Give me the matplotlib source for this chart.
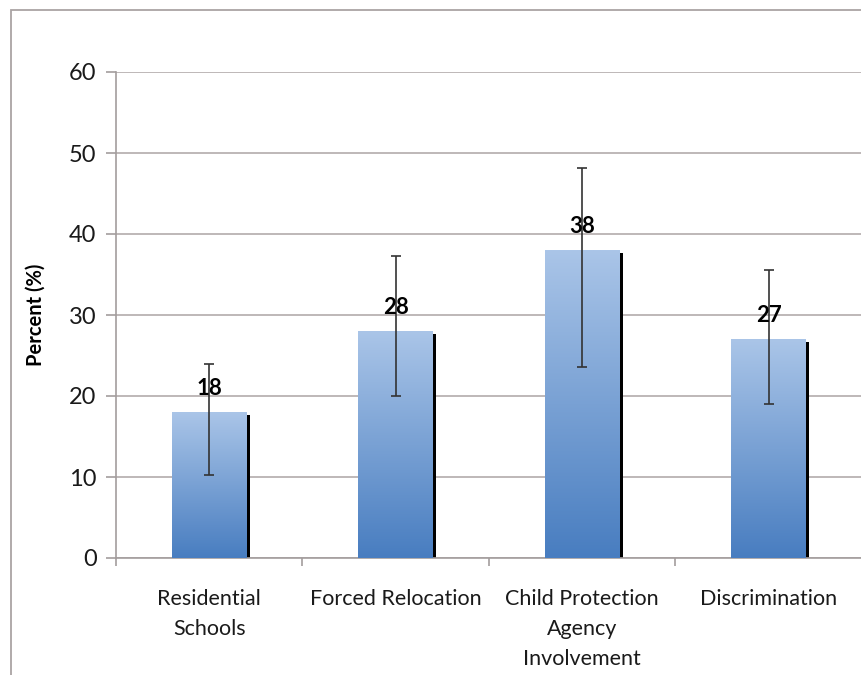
import numpy as np
import matplotlib as mpl
mpl.use('Agg')
import matplotlib.pyplot as plt
import matplotlib.patches as patches
from matplotlib.colors import LinearSegmentedColormap
#
#--- chart data
#
categories = ['Residential\nSchools', 'Forced Relocation', 'Child Protection\nAgency\nInvolvement', 'Discrimination']
percent    = [18, 28, 38, 27]
err_low    = [10.3, 20.0, 23.6, 19.0]
err_high   = [23.9, 37.3, 48.1, 35.6]
yticks     = [0, 10, 20, 30, 40, 50, 60]

#----------------------------------------------------------------------------------------
#--- plot_chart: bar chart with gradient bars, shadow and error bars                  ---
#----------------------------------------------------------------------------------------

def plot_chart(outname='out.png'):
    """
    plot the bar chart
    input:  none (uses the module level data)
    output: <outname>
    """
    plt.close('all')
    mpl.rcParams['font.family'] = ['Lato', 'DejaVu Sans']

    fig = plt.figure(figsize=(8.62, 6.75), dpi=100)
    ax  = fig.add_axes([116/862, 117/675, 746/862, 486/675])
#
#--- figure frame (only left and top edges are inside the picture)
#
    frame = patches.Rectangle((11/862, -0.1), 1.5, 1.0 - 10/675 + 0.1, transform=fig.transFigure,
                              fill=False, edgecolor='#aaa4a4', lw=1.3, zorder=0)
    fig.patches.append(frame)

    x     = np.arange(len(categories))
    width = 0.4
    cmap  = LinearSegmentedColormap.from_list('bar', ['#487dc0', '#aac5e8'])
    grad  = np.linspace(0, 1, 256).reshape(-1, 1)
#
#--- shadow on the right side of each bar
#
    sh_w = 0.016
    ax.bar(x + width / 2 + sh_w / 2, np.array(percent) - 0.3, sh_w, color='black', zorder=2)
#
#--- bars with vertical gradient
#
    bars = ax.bar(x, percent, width, color='none', edgecolor='none', zorder=3)
    for b in bars:
        x0 = b.get_x()
        x1 = x0 + b.get_width()
        h  = b.get_height()
        im = ax.imshow(grad, extent=[x0, x1, 0, h], origin='lower', cmap=cmap,
                       aspect='auto', zorder=3)
        im.set_clip_path(b)
#
#--- error bars
#
    yerr = [np.array(percent) - np.array(err_low), np.array(err_high) - np.array(percent)]
    ax.errorbar(x, percent, yerr=yerr, fmt='none', ecolor='#333333', elinewidth=1.2,
                capsize=3.5, capthick=1.2, zorder=4)
#
#--- value labels
#
    for i in range(len(percent)):
        ax.annotate(str(percent[i]), (x[i], percent[i]), xytext=(0, 17), textcoords='offset points',
                    ha='center', va='center', fontsize=16, fontweight='bold', color='black', zorder=5)
#
#--- axes setting
#
    ax.set_xlim(-0.5, len(categories) - 0.5)
    ax.set_ylim(0, 60)
    ax.set_yticks(yticks)
    ax.yaxis.grid(True, color='#b3acac', lw=1.2)
    ax.set_axisbelow(True)

    for side in ('top', 'right'):
        ax.spines[side].set_visible(False)
    for side in ('left', 'bottom'):
        ax.spines[side].set_color('#a39d9d')
        ax.spines[side].set_linewidth(1.2)

    ax.set_xticks(x)
    ax.set_xticklabels(categories, fontsize=15.5, linespacing=1.65, color='#1a1a1a')
    ax.set_xticks(np.arange(len(categories) + 1) - 0.5, minor=True)
    ax.tick_params(axis='x', which='major', length=0, pad=22)
    ax.tick_params(axis='x', which='minor', length=6, direction='out', color='#a39d9d', width=1.2)
    ax.tick_params(axis='y', length=7, direction='out', color='#a39d9d', width=1.2,
                   labelsize=17, pad=7, labelcolor='#1a1a1a')

    ax.set_ylabel('Percent (%)', fontsize=14.5, fontweight='bold', labelpad=17)

    plt.savefig(outname, format='png', dpi=100)
    plt.close('all')

#------------------------------------------------------------------------

if __name__ == '__main__':

    plot_chart()
